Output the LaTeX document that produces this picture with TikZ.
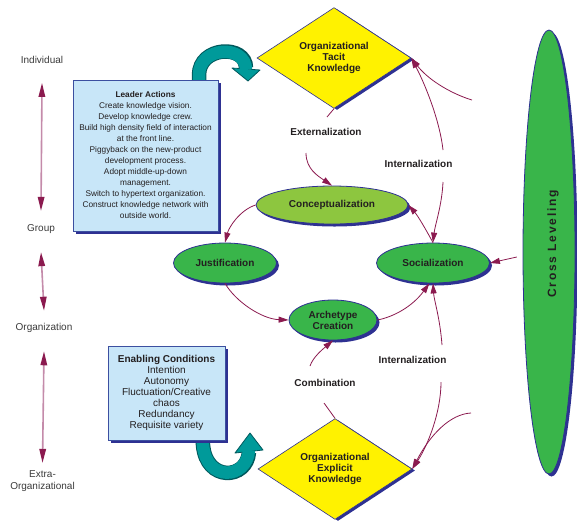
\documentclass[tikz,border=0pt]{standalone}
\usepackage{fontspec}
\setmainfont{Liberation Sans}
\newfontfamily\crossfont[LetterSpace=15]{Liberation Sans}
\usetikzlibrary{shapes.geometric,arrows.meta,shadows}
\definecolor{navy}{HTML}{2E3192}
\definecolor{ygold}{HTML}{FFF200}
\definecolor{dgreen}{HTML}{39B54A}
\definecolor{lgreen}{HTML}{8DC63F}
\definecolor{boxblue}{HTML}{C8E6F8}
\definecolor{boxline}{HTML}{3C4FA0}
\definecolor{teal1}{HTML}{009A9A}
\definecolor{tealdk}{HTML}{00585C}
\definecolor{maroon}{HTML}{8B1A4F}
\definecolor{mauve}{HTML}{C48BAA}
\definecolor{txt}{HTML}{231F20}
\definecolor{lvltxt}{HTML}{3A3A3A}
\pgfdeclarelayer{bg}
\pgfsetlayers{bg,main}
\tikzset{
  mline/.style={draw=maroon, line width=0.8pt},
  marrow/.style={mline, -{Triangle[length=10pt,width=6pt]}},
  axisarrow/.style={draw=mauve, line width=1.6pt,
    {Triangle[length=14pt,width=6.5pt,color=maroon]}-{Triangle[length=14pt,width=6.5pt,color=maroon]}},
  dshadow/.style={drop shadow={shadow xshift=2.5pt, shadow yshift=-2.5pt, fill=navy, opacity=1}},
  ell/.style={ellipse, draw=navy, line width=0.8pt, inner sep=0pt, align=center,
    font=\bfseries\fontsize{10}{11}\selectfont, text=txt, dshadow},
  dia/.style={diamond, draw=navy, line width=0.6pt, fill=ygold, inner sep=0pt,
    minimum width=154pt, minimum height=97pt, align=center, text=txt,
    font=\bfseries\fontsize{10}{11}\selectfont,
    drop shadow={shadow xshift=3pt, shadow yshift=-1.5pt, fill=navy, opacity=1}},
  infobox/.style={rectangle, draw=boxline, line width=0.8pt, fill=boxblue, inner sep=0pt,
    align=center, text=txt,
    drop shadow={shadow xshift=3pt, shadow yshift=-3pt, fill=navy, opacity=1}},
  lvl/.style={font=\fontsize{10}{12}\selectfont, text=lvltxt, align=center, inner sep=0pt},
  proc/.style={font=\bfseries\fontsize{10}{11}\selectfont, text=txt, inner sep=0pt},
  bandout/.style={line width=14.5pt, tealdk},
  bandin/.style={line width=12.5pt, teal1},
  tealhead/.style={fill=teal1, draw=tealdk, line width=0.8pt, line join=round},
}
\begin{document}
\begin{tikzpicture}[x=1pt,y=-1pt]
\useasboundingbox (0,0) rectangle (577,520);

% level labels
\node[lvl] (ind) at (42,60) {Individual};
\node[lvl] (grp) at (41,229) {Group};
\node[lvl] (org) at (44,328) {Organization};
\node[lvl] (extra) at (42.5,481) {Extra-\\Organizational};
\draw[axisarrow] ([yshift=-19pt]ind.south) -- ([yshift=13.4pt]grp.north);
\draw[axisarrow] ([yshift=-18.4pt]grp.south) -- ([yshift=12.4pt]org.north);
\draw[axisarrow] ([yshift=-18.4pt]org.south) -- ([yshift=7.4pt]extra.north);

% boxes
\node[infobox, minimum width=145pt, minimum height=151pt, font=\fontsize{8.3}{11}\selectfont]
  (leader) at (145.5,155.5)
  {\textbf{Leader Actions}\\Create knowledge vision.\\Develop knowledge crew.\\
   Build high density field of interaction\\at the front line.\\
   Piggyback on the new-product\\development process.\\Adopt middle-up-down\\management.\\
   Switch to hypertext organization.\\Construct knowledge network with\\outside world.};
\node[infobox, minimum width=117pt, minimum height=94pt, font=\fontsize{10}{11}\selectfont]
  (enab) at (166.5,393)
  {\textbf{Enabling Conditions}\\Intention\\Autonomy\\Fluctuation/Creative\\chaos\\Redundancy\\Requisite variety};

% knowledge nodes
\node[dia] (tacit) at (334,58) {Organizational\\Tacit\\Knowledge};
\node[dia] (explicit) at (335,469) {Organizational\\Explicit\\Knowledge};
\node[ell, fill=lgreen, minimum width=152pt, minimum height=38pt] (concept) at (332,205) {Conceptualization};
\node[ell, fill=dgreen, minimum width=103pt, minimum height=40pt] (justif) at (225,263) {Justification};
\node[ell, fill=dgreen, minimum width=88pt, minimum height=40pt] (arche) at (333,320) {Archetype\\Creation};
\node[ell, fill=dgreen, minimum width=113pt, minimum height=40pt] (social) at (433,263) {Socialization};
\node[ellipse, draw=navy, line width=0.8pt, fill=dgreen, minimum width=52pt, minimum height=444pt,
  inner sep=0pt, dshadow] (cross) at (549,252) {};
\node[rotate=90, text=txt, inner sep=0pt, font=\crossfont\bfseries\fontsize{12}{12}\selectfont]
  (crosslbl) at (553,244) {Cross Leveling};

% process labels
\node[proc] (ext) at (326,132) {Externalization};
\node[proc] (int1) at (418.5,164) {Internalization};
\node[proc] (comb) at (325,383) {Combination};
\node[proc] (int2) at (412.5,360) {Internalization};

% connectors
\coordinate (e1) at (327,117);
\coordinate (e2) at (306,153);
\draw[mline] (tacit.south) -- (e1);
\draw[marrow] (e2) .. controls (306,169) and (318,176) .. (concept.north);
\draw[marrow] (concept.west) .. controls (240,210) and (229,227) .. (justif.north);
\draw[marrow] (justif.south) .. controls (236,302) and (262,319) .. (arche.west);
\draw[marrow] (arche.east) .. controls (393,317) and (412,307) .. (social.260);
\coordinate (c1) at (324,403);
\coordinate (c2) at (310,366);
\draw[mline] (explicit.north) -- (c1);
\draw[marrow] (c2) .. controls (313,357) and (323,349) .. (arche.south);
\coordinate (i2a) at (442,345);
\coordinate (i2b) at (441,382);
\coordinate (r2) at (471,413);
\draw[marrow] (i2a) .. controls (440,318) and (434,300) .. (social.south);
\draw[marrow] (i2b) .. controls (441,412) and (428,445) .. (explicit.east);
\draw[marrow] (r2) .. controls (450,414) and (430,435) .. (explicit.east);
\coordinate (i1a) at (443,150);
\coordinate (i1b) at (443,182);
\coordinate (r1) at (472,100);
\draw[marrow] (i1a) .. controls (440,122) and (426,86) .. (tacit.east);
\draw[marrow] (r1) .. controls (455,95) and (430,82) .. (tacit.east);
\draw[marrow] (i1b) .. controls (442,205) and (435,225) .. (social.north);
\draw[marrow] (social.north) .. controls (425,228) and (418,216) .. (concept.east);
\draw[marrow, shorten <=6pt] (cross.188) -- (social.east);

% teal curved arrows
\begin{pgfonlayer}{bg}
\draw[bandout] ([xshift=53.5pt,yshift=-8pt]leader.north) -- (199,75) .. controls (199,46) and (246,44) .. (246,68);
\draw[tealhead] (232,68) -- (260,70) -- (248,81) -- cycle;
\draw[bandin] ([xshift=53.5pt,yshift=-8pt]leader.north) -- (199,75) .. controls (199,46) and (246,44) .. (246,70);
\draw[bandout] ([xshift=35.5pt,yshift=8pt]enab.south) -- (203,445) .. controls (206,482) and (247,480) .. (249,452);
\draw[tealhead] (235,453) -- (263,450) -- (250,433) -- cycle;
\draw[bandin] ([xshift=35.5pt,yshift=8pt]enab.south) -- (203,445) .. controls (206,482) and (247,480) .. (249,450);
\end{pgfonlayer}
\end{tikzpicture}
\end{document}
